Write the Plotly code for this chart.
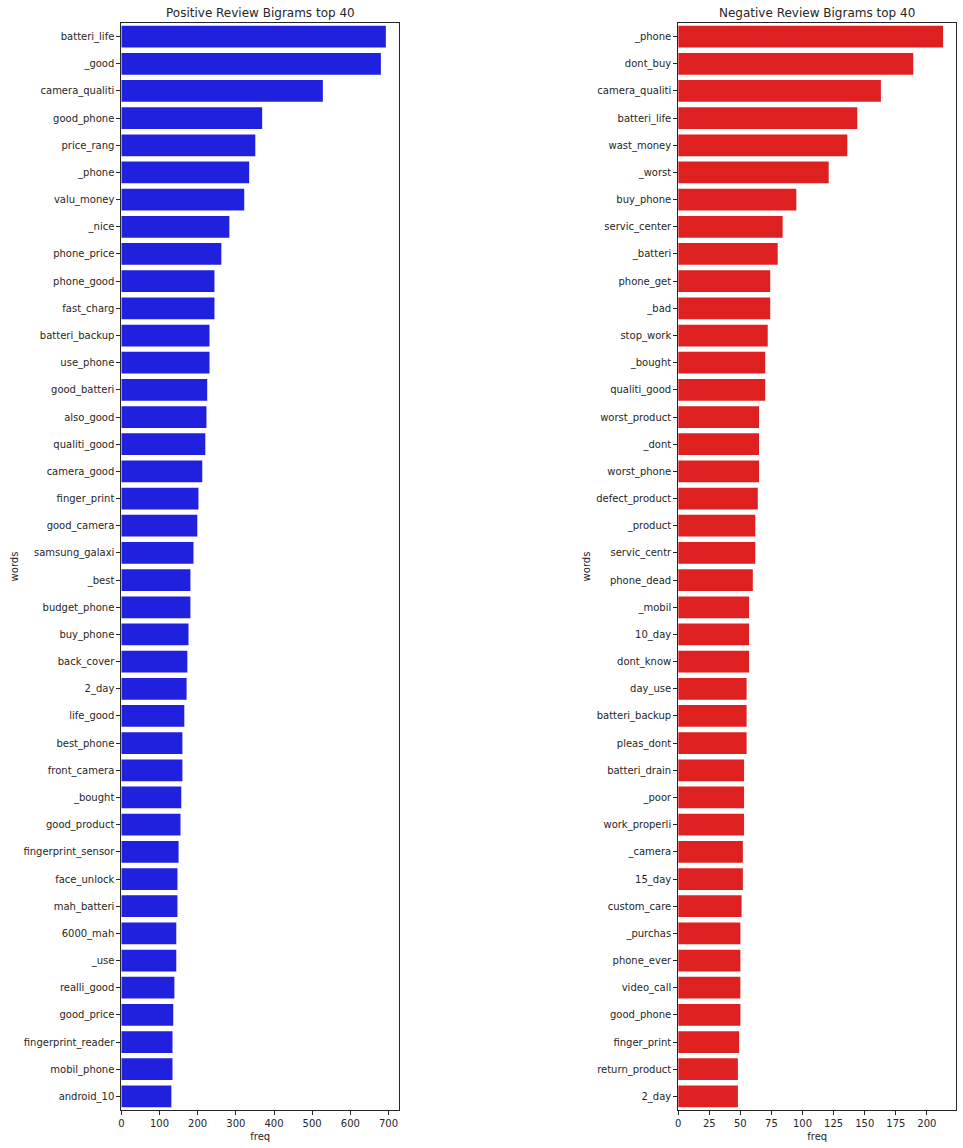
import plotly.graph_objects as go

pos_words = ["batteri_life", "_good", "camera_qualiti", "good_phone", "price_rang", "_phone",
             "valu_money", "_nice", "phone_price", "phone_good", "fast_charg", "batteri_backup",
             "use_phone", "good_batteri", "also_good", "qualiti_good", "camera_good", "finger_print",
             "good_camera", "samsung_galaxi", "_best", "budget_phone", "buy_phone", "back_cover",
             "2_day", "life_good", "best_phone", "front_camera", "_bought", "good_product",
             "fingerprint_sensor", "face_unlock", "mah_batteri", "6000_mah", "_use", "realli_good",
             "good_price", "fingerprint_reader", "mobil_phone", "android_10"]
pos_freq = [693, 680, 528, 369, 351, 335, 322, 283, 262, 244, 244, 231, 231, 225, 223, 220,
            212, 202, 199, 189, 181, 181, 176, 173, 171, 165, 160, 160, 157, 155, 150, 147,
            147, 144, 144, 139, 136, 134, 134, 131]

neg_words = ["_phone", "dont_buy", "camera_qualiti", "batteri_life", "wast_money", "_worst",
             "buy_phone", "servic_center", "_batteri", "phone_get", "_bad", "stop_work", "_bought",
             "qualiti_good", "worst_product", "_dont", "worst_phone", "defect_product", "_product",
             "servic_centr", "phone_dead", "_mobil", "10_day", "dont_know", "day_use",
             "batteri_backup", "pleas_dont", "batteri_drain", "_poor", "work_properli", "_camera",
             "15_day", "custom_care", "_purchas", "phone_ever", "video_call", "good_phone",
             "finger_print", "return_product", "2_day"]
neg_freq = [213, 189, 163, 144, 136, 121, 95, 84, 80, 74, 74, 72, 70, 70, 65, 65, 65, 64, 62,
            62, 60, 57, 57, 57, 55, 55, 55, 53, 53, 53, 52, 52, 51, 50, 50, 50, 50, 49, 48, 48]

pos_ticks = [0, 100, 200, 300, 400, 500, 600, 700]
neg_ticks = [0, 25, 50, 75, 100, 125, 150, 175, 200]

W, H = 963, 1148
FONT = "DejaVu Sans"

fig = go.Figure()
fig.add_trace(go.Bar(x=pos_freq, y=pos_words, orientation="h", marker_color="#2020df",
                     marker_line_width=0, xaxis="x", yaxis="y"))
fig.add_trace(go.Bar(x=neg_freq, y=neg_words, orientation="h", marker_color="#df2020",
                     marker_line_width=0, xaxis="x2", yaxis="y2"))

y_dom = [1 - 1110 / H, 1 - 23 / H]
axis_common = dict(showline=True, linecolor="#262626", linewidth=1, mirror=True,
                   ticks="outside", ticklen=4, tickcolor="#262626", showgrid=False,
                   zeroline=False, tickfont=dict(family=FONT, size=10, color="#262626"))

fig.update_layout(
    width=W, height=H,
    margin=dict(l=0, r=0, t=0, b=0),
    paper_bgcolor="white", plot_bgcolor="white",
    showlegend=False, bargap=0.2,
    font=dict(family=FONT, size=10, color="#262626"),
    xaxis=dict(domain=[118.7 / W, 397.3 / W], range=[0, max(pos_freq) * 1.05],
               tickvals=pos_ticks, anchor="y",
               title=dict(text="freq", standoff=4, font=dict(family=FONT, size=10)),
               **axis_common),
    yaxis=dict(domain=y_dom, anchor="x", type="category", categoryorder="array",
               categoryarray=pos_words, range=[39.5, -0.5],
               title=dict(text="words", standoff=2, font=dict(family=FONT, size=10)),
               **axis_common),
    xaxis2=dict(domain=[677.3 / W, 956.3 / W], range=[0, max(neg_freq) * 1.05],
                tickvals=neg_ticks, anchor="y2",
                title=dict(text="freq", standoff=4, font=dict(family=FONT, size=10)),
                **axis_common),
    yaxis2=dict(domain=y_dom, anchor="x2", type="category", categoryorder="array",
                categoryarray=neg_words, range=[39.5, -0.5],
                title=dict(text="words", standoff=3, font=dict(family=FONT, size=10)),
                **axis_common),
    annotations=[
        dict(text="Positive Review Bigrams top 40", x=(118.7 + 397.3) / 2 / W, y=1 - 13 / H,
             xref="paper", yref="paper", showarrow=False, xanchor="center", yanchor="middle",
             font=dict(family=FONT, size=12, color="#262626")),
        dict(text="Negative Review Bigrams top 40", x=(677.3 + 956.3) / 2 / W, y=1 - 13 / H,
             xref="paper", yref="paper", showarrow=False, xanchor="center", yanchor="middle",
             font=dict(family=FONT, size=12, color="#262626")),
    ],
)

fig.write_html("out.html", config={"displayModeBar": False},
               post_script="document.body.style.margin='0';document.body.style.overflow='hidden';")
